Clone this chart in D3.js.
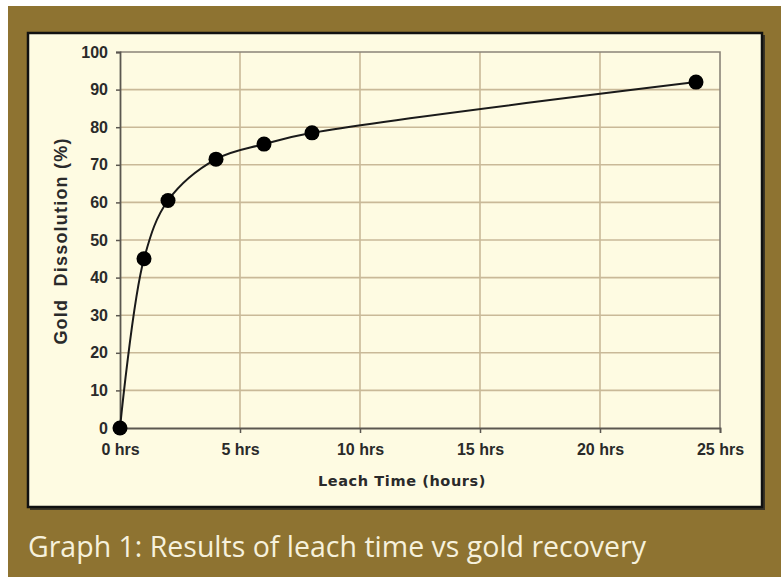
<!DOCTYPE html>
<html>
<head>
<meta charset="utf-8">
<script src="https://cdn.jsdelivr.net/npm/d3@7"></script>
<style>
  body { margin: 0; background: #fff; }
</style>
</head>
<body>
<div class="chart"></div>
<script>
var svgWidth = 781;
var svgHeight = 577;

// leach data
var hours = [0, 1, 2, 4, 6, 8, 24];
var dissolution = [0, 45, 60.5, 71.5, 75.5, 78.5, 92];
var xTicks = [0, 5, 10, 15, 20, 25];
var yTicks = [0, 10, 20, 30, 40, 50, 60, 70, 80, 90, 100];

var plot = { left: 120, top: 52, right: 720, bottom: 428 };

var svg = d3.select(".chart")
  .append("svg")
  .attr("width", svgWidth)
  .attr("height", svgHeight);

// brown page background + cream panel
svg.append("rect")
  .attr("x", 8).attr("y", 6)
  .attr("width", svgWidth - 8).attr("height", svgHeight - 6)
  .attr("fill", "#8e7331");

svg.append("rect")
  .attr("x", 30).attr("y", 35)
  .attr("width", 735).attr("height", 475)
  .attr("fill", "#3a3426");

svg.append("rect")
  .attr("x", 28).attr("y", 33)
  .attr("width", 734).attr("height", 474)
  .attr("fill", "#fefbe2")
  .attr("stroke", "#111")
  .attr("stroke-width", 2.5);

var xScale = d3.scaleLinear().domain([0, 25]).range([plot.left, plot.right]);
var yScale = d3.scaleLinear().domain([0, 100]).range([plot.bottom, plot.top]);

// grid
svg.append("g")
  .selectAll("line")
  .data(yTicks.filter(function(d) { return d > 0 && d < 100; }))
  .enter().append("line")
  .attr("x1", plot.left).attr("x2", plot.right)
  .attr("y1", function(d) { return yScale(d); })
  .attr("y2", function(d) { return yScale(d); })
  .attr("stroke", "#c9b998")
  .attr("stroke-width", 1.6);

svg.append("g")
  .selectAll("line")
  .data(xTicks.filter(function(d) { return d > 0 && d < 25; }))
  .enter().append("line")
  .attr("x1", function(d) { return xScale(d); })
  .attr("x2", function(d) { return xScale(d); })
  .attr("y1", plot.top).attr("y2", plot.bottom)
  .attr("stroke", "#c9b998")
  .attr("stroke-width", 1.6);

// plot frame (top/right grey)
svg.append("path")
  .attr("d", "M" + plot.left + "," + plot.top + "H" + plot.right + "V" + plot.bottom)
  .attr("fill", "none")
  .attr("stroke", "#8a8478")
  .attr("stroke-width", 1.6);

var leftAxis = d3.axisLeft(yScale)
  .tickValues(yTicks)
  .tickSize(4)
  .tickPadding(8);

var bottomAxis = d3.axisBottom(xScale)
  .tickValues(xTicks)
  .tickSize(5)
  .tickPadding(11)
  .tickFormat(function(d) { return d + " hrs"; });

var yAxisG = svg.append("g")
  .attr("transform", "translate(" + plot.left + ",0)")
  .call(leftAxis);

var xAxisG = svg.append("g")
  .attr("transform", "translate(0," + plot.bottom + ")")
  .call(bottomAxis);

[yAxisG, xAxisG].forEach(function(g) {
  g.select(".domain").attr("stroke", "#5b5750").attr("stroke-width", 1.8);
  g.selectAll(".tick line").attr("stroke", "#5b5750").attr("stroke-width", 1.5);
  g.selectAll("text")
    .attr("fill", "#2a2a2a")
    .style("font-family", "'Liberation Sans', Arial, sans-serif")
    .style("font-weight", "bold")
    .style("font-size", "16px");
});

// smoothed curve
var line = d3.line()
  .x(function(d, i) { return xScale(hours[i]); })
  .y(function(d) { return yScale(d); })
  .curve(d3.curveCatmullRom.alpha(0.5));

svg.append("path")
  .datum(dissolution)
  .attr("d", line)
  .attr("fill", "none")
  .attr("stroke", "#1a1a1a")
  .attr("stroke-width", 2);

svg.append("g")
  .selectAll("circle")
  .data(dissolution)
  .enter().append("circle")
  .attr("cx", function(d, i) { return xScale(hours[i]); })
  .attr("cy", function(d) { return yScale(d); })
  .attr("r", 7.5)
  .attr("fill", "#000");

// axis titles
svg.append("text")
  .attr("transform", "translate(67," + 241 + ") rotate(-90)")
  .attr("text-anchor", "middle")
  .attr("fill", "#2a2a2a")
  .style("font-family", "'Liberation Sans', Arial, sans-serif")
  .style("font-weight", "bold")
  .style("font-size", "18px")
  .style("letter-spacing", "1.2px")
  .attr("xml:space", "preserve")
  .text("Gold  Dissolution (%)");

svg.append("text")
  .attr("x", 402)
  .attr("y", 486)
  .attr("text-anchor", "middle")
  .attr("fill", "#2a2a2a")
  .style("font-family", "'DejaVu Sans', Verdana, sans-serif")
  .style("font-weight", "bold")
  .style("font-size", "14.5px")
  .style("letter-spacing", "0.6px")
  .text("Leach Time (hours)");

// caption
svg.append("text")
  .attr("x", 28)
  .attr("y", 557)
  .attr("fill", "#f6f1dc")
  .style("font-family", "'Open Sans', sans-serif")
  .style("font-size", "28.5px")
  .text("Graph 1: Results of leach time vs gold recovery");
</script>
</body>
</html>
